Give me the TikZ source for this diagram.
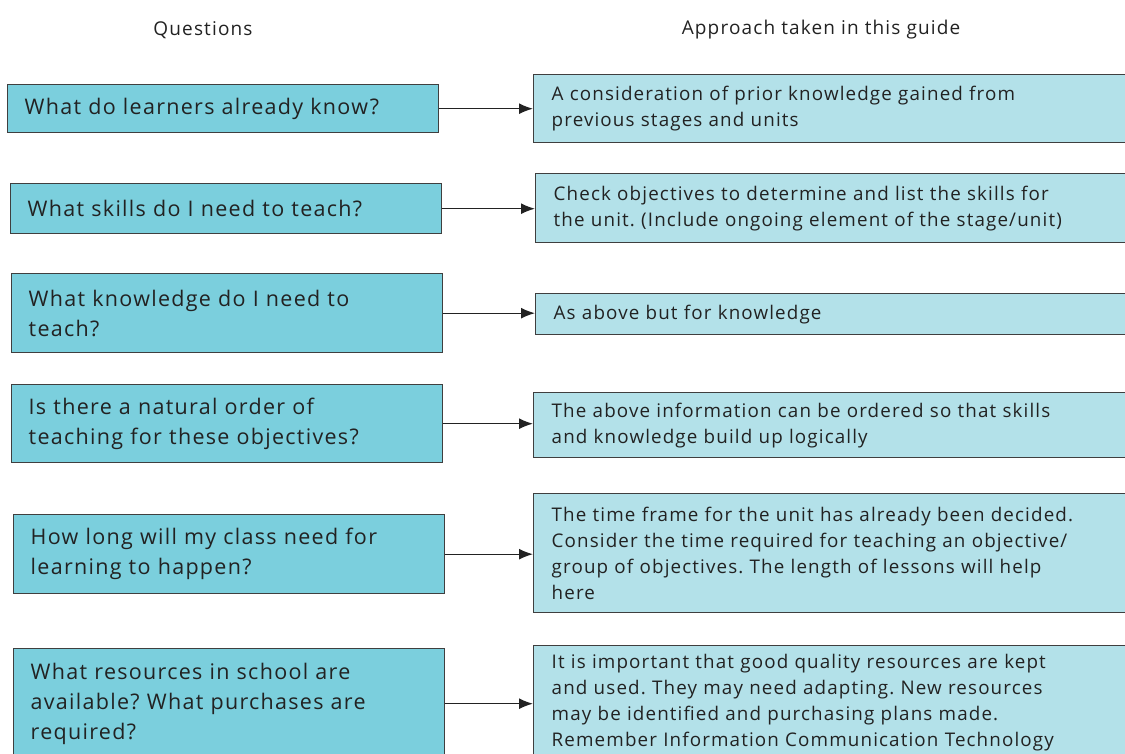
\documentclass[tikz,border=0pt]{standalone}
\usepackage{fontspec}
\setmainfont[LetterSpace=6]{Open Sans}
\usetikzlibrary{arrows.meta,positioning}
\definecolor{qfill}{HTML}{7BCFDD}
\definecolor{afill}{HTML}{B3E1E9}
\definecolor{boxline}{HTML}{3F3F3F}
\definecolor{inktext}{HTML}{222222}
\frenchspacing

\begin{document}
\begin{tikzpicture}[x=1pt, y=-1pt,
  question/.style={draw=boxline, line width=1.4pt, fill=qfill, anchor=north west, align=left, text width=397pt, inner xsep=17pt, inner ysep=0pt, text=inktext, font=\fontsize{21.5}{30}\selectfont},
  approach/.style={draw=boxline, line width=1.4pt, fill=afill, anchor=north west, align=left, text width=600pt, inner xsep=18pt, inner ysep=0pt, text=inktext, font=\fontsize{18.8}{26}\selectfont},
  head/.style={text=inktext, font=\fontsize{19}{22}\selectfont},
  edge/.style={-{Latex[length=14pt, width=11pt]}, line width=1.4pt, draw=inktext}
]
\useasboundingbox (0,0) rectangle (1125,754);
\clip (0,0) rectangle (1125,754);

\node[head] (qhead) at (203,30) {Questions};
\node[head] (ahead) at (821,30) {Approach taken in this guide};

\node[question, minimum height=48pt] (q1) at (7,84) {What do learners already know?};
\node[question, minimum height=50pt] (q2) at (10,183) {What skills do I need to teach?};
\node[question, minimum height=79pt] (q3) at (11,273) {What knowledge do I need to\\teach?};
\node[question, minimum height=78pt] (q4) at (11,384) {Is there a natural order of\\teaching for these objectives?};
\node[question, minimum height=79pt] (q5) at (13,514) {How long will my class need for\\learning to happen?};
\node[question, minimum height=110pt] (q6) at (13,648) {What resources in school are\\available? What purchases are\\required?};

\node[approach, minimum height=68pt] (a1) at (533,74) {A consideration of prior knowledge gained from\\previous stages and units};
\node[approach, minimum height=69pt] (a2) at (535,173) {Check objectives to determine and list the skills for\\the unit. (Include ongoing element of the stage/unit)};
\node[approach, minimum height=41pt] (a3) at (535,293) {As above but for knowledge};
\node[approach, minimum height=65pt] (a4) at (533,392) {The above information can be ordered so that skills\\and knowledge build up logically};
\node[approach, minimum height=119pt] (a5) at (533,493) {The time frame for the unit has already been decided.\\Consider the time required for teaching an objective/\\group of objectives. The length of lessons will help\\here};
\node[approach, minimum height=114pt] (a6) at (533,645) {It is important that good quality resources are kept\\and used. They may need adapting. New resources\\may be identified and purchasing plans made.\\Remember Information Communication Technology};

\draw[edge] (q1.east) -- (q1.east -| a1.west);
\draw[edge] (q2.east) -- (q2.east -| a2.west);
\draw[edge] (q3.east) -- (q3.east -| a3.west);
\draw[edge] (q4.east) -- (q4.east -| a4.west);
\draw[edge] (q5.east) -- (q5.east -| a5.west);
\draw[edge] (q6.east) -- (q6.east -| a6.west);
\end{tikzpicture}
\end{document}
